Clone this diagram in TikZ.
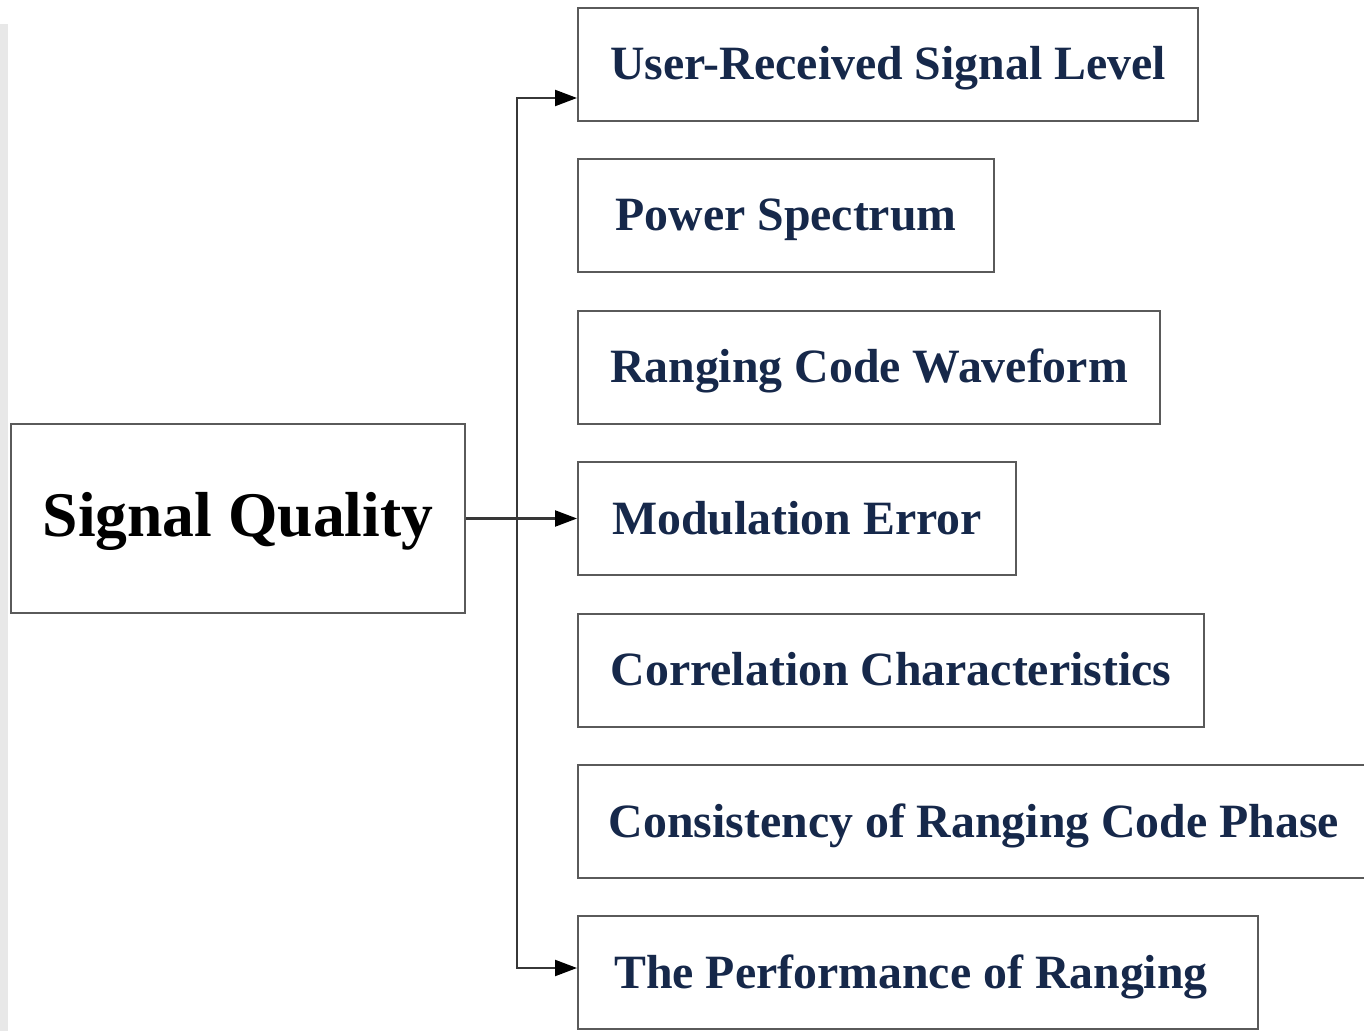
\documentclass[tikz,border=0pt]{standalone}
\usepackage{fontspec}
\setmainfont{Liberation Serif}
\usetikzlibrary{arrows.meta}
\definecolor{navy}{RGB}{22,40,74}
\definecolor{boxline}{RGB}{90,90,90}
\definecolor{conn}{RGB}{55,55,55}
\definecolor{strip}{RGB}{232,232,232}
\begin{document}
\begin{tikzpicture}[x=0.5pt,y=-0.5pt,
  item/.style={draw=boxline,line width=1pt,minimum height=56.5pt,inner sep=0pt,
    text height=18pt,text depth=2.5pt,
    font=\fontsize{23.9pt}{28pt}\selectfont\bfseries,text=navy},
  root/.style={draw=boxline,line width=1pt,minimum width=227pt,minimum height=94.5pt,inner sep=0pt,
    text height=24pt,text depth=5.5pt,
    font=\fontsize{31.8pt}{36pt}\selectfont\bfseries,text=black},
  arr/.style={draw=conn,line width=1.1pt,-{Triangle[length=11pt,width=8pt,color=black]}}]
\useasboundingbox (0,0) rectangle (1364,1031);
\fill[strip] (0,24) rectangle (8,1031);
\node[root] (sq) at (238,518.5) {Signal Quality};
\node[item,minimum width=310pt] (b1) at (888,64.5) {User-Received Signal Level};
\node[item,minimum width=208pt] (b2) at (786,215.5) {Power Spectrum};
\node[item,minimum width=291pt] (b3) at (869,367.5) {Ranging Code Waveform};
\node[item,minimum width=219pt] (b4) at (797,518.5) {Modulation Error};
\node[item,minimum width=313pt] (b5) at (891,670) {Correlation Characteristics};
\node[item,minimum width=396pt] (b6) at (974,821.5) {Consistency of Ranging Code Phase};
\node[item,minimum width=340pt] (b7) at (918,972.5) {The Performance of Ranging\hspace*{7pt}};
\coordinate (j) at (517,518.5);
\coordinate (t1) at ([yshift=-16.75pt]b1.west);
\coordinate (t7) at ([yshift=2.25pt]b7.west);
\draw[arr] (sq.east) -- (b4.west);
\draw[arr] (j) |- (t1);
\draw[arr] (j) |- (t7);
\end{tikzpicture}
\end{document}
